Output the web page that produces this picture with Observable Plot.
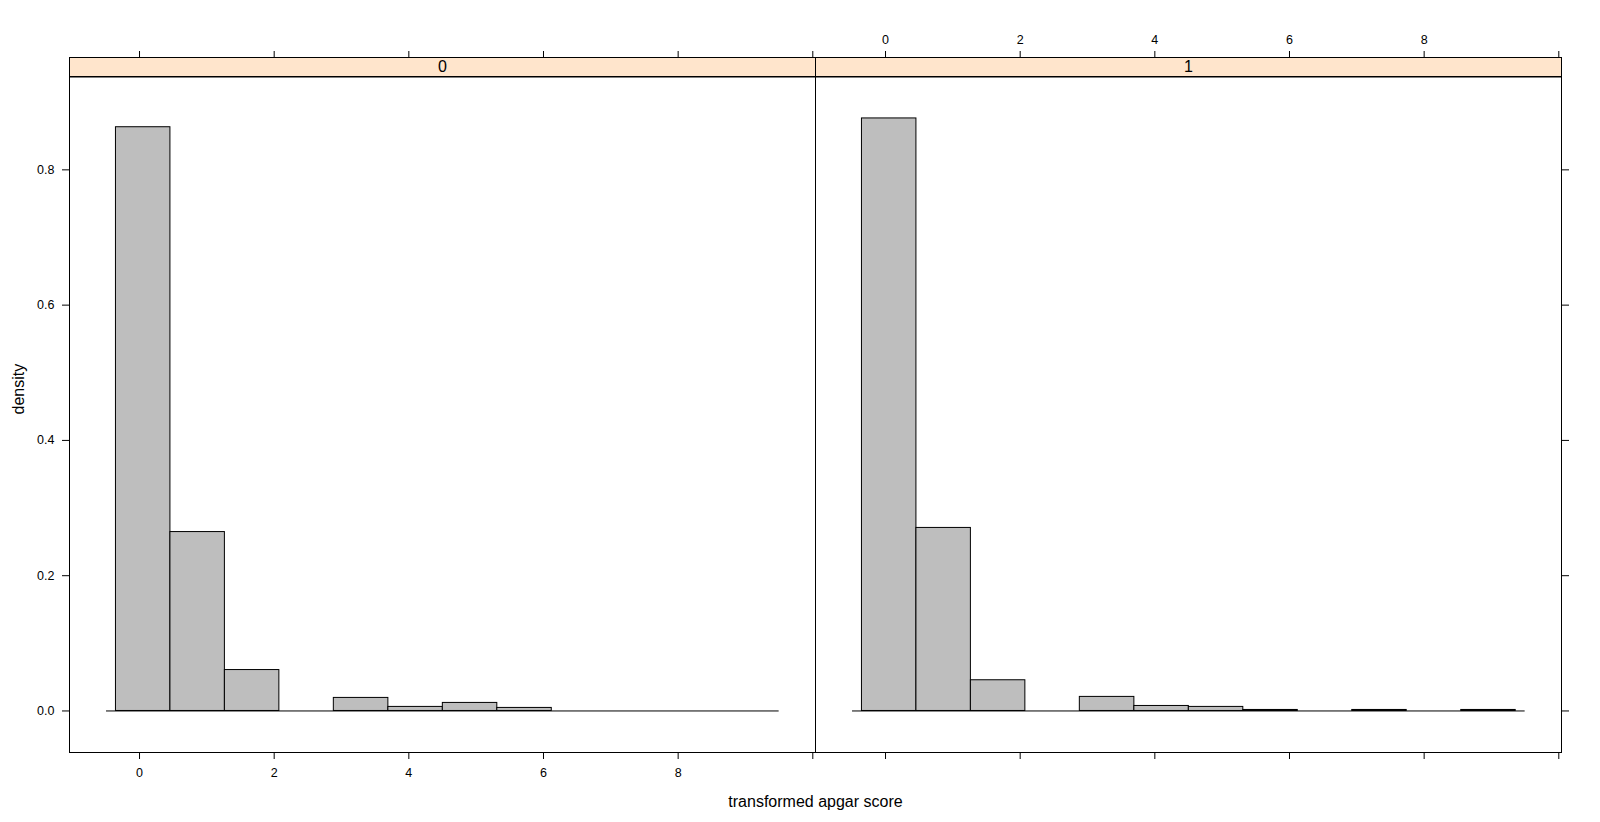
<!DOCTYPE html>
<html>
<head>
<meta charset="utf-8">
<script src="https://cdn.jsdelivr.net/npm/d3@7"></script>
<script src="https://cdn.jsdelivr.net/npm/@observablehq/plot@0.6"></script>
<style>
  html, body { margin: 0; padding: 0; background: #ffffff; }
  #chart svg { display: block; }
</style>
</head>
<body>
<div id="chart"></div>
<script>
// ---- data ----
const panels = ["0", "1"];
const breaks = [-0.35, 0.459, 1.268, 2.077, 2.886, 3.696, 4.505, 5.314, 6.123, 6.932, 7.741, 8.551, 9.36];
const density0 = [0.863, 0.2645, 0.0605, 0, 0.0193, 0.006, 0.0119, 0.0045, 0, 0, 0, 0];
const density1 = [0.876, 0.2706, 0.0454, 0, 0.0208, 0.0074, 0.006, 0.0015, 0, 0.0015, 0, 0.0015];
const xTicks = [0, 2, 4, 6, 8, 10];
const xTickLabels = ["0", "2", "4", "6", "8", ""];
const yTicks = [0, 0.2, 0.4, 0.6, 0.8];
const xDomain = [-1.04, 10.04];
const yDomain = [-0.0614, 0.938];
const baselineRange = [-0.49, 9.5];
const xLabel = "transformed apgar score";
const yLabel = "density";

// ---- table for the marks ----
const densities = {"0": density0, "1": density1};
const bins = [];
for (const p of panels) {
  densities[p].forEach((d, i) => {
    if (d > 0) bins.push({panel: p, x1: breaks[i], x2: breaks[i + 1], density: d});
  });
}
const xFmt = d => xTickLabels[xTicks.indexOf(d)];
const yFmt = d3.format(".1f");

const chart = Plot.plot({
  width: 1600,
  height: 822,
  marginLeft: 69,
  marginRight: 39,
  marginTop: 76,
  marginBottom: 70,
  style: {fontFamily: "'Liberation Sans', Arial, sans-serif", fontSize: "12.5px", background: "#ffffff", color: "#000000"},
  fx: {domain: panels, padding: 0, axis: null, label: null},
  x: {domain: xDomain, axis: null},
  y: {domain: yDomain, axis: null},
  marks: [
    // strip
    Plot.frame({insetTop: -19, insetBottom: 675.5, fill: "#FFE5CC", stroke: "#000000"}),
    Plot.text(panels, {fx: d => d, text: d => d, frameAnchor: "top", lineAnchor: "middle", dy: -9.5, fontSize: 16}),
    // panel border
    Plot.frame({stroke: "#000000"}),
    // histogram bars
    Plot.rectY(bins, {fx: "panel", x1: "x1", x2: "x2", y: "density", fill: "#BEBEBE", stroke: "#000000", strokeWidth: 1}),
    Plot.ruleY([0], {x1: baselineRange[0], x2: baselineRange[1], stroke: "#000000"}),
    // x axes (alternating like lattice)
    Plot.axisX({anchor: "bottom", facetAnchor: "left", ticks: xTicks, tickFormat: xFmt, tickSize: 7, tickPadding: 9, label: null}),
    Plot.axisX({anchor: "top", facetAnchor: "left", ticks: xTicks, tickFormat: () => "", tickSize: 7, dy: -19, label: null}),
    Plot.axisX({anchor: "top", facetAnchor: "right", ticks: xTicks, tickFormat: xFmt, tickSize: 7, tickPadding: 7, dy: -19, label: null}),
    Plot.axisX({anchor: "bottom", facetAnchor: "right", ticks: xTicks, tickFormat: () => "", tickSize: 7, label: null}),
    // y axes
    Plot.axisY({anchor: "left", facetAnchor: "left", ticks: yTicks, tickFormat: yFmt, tickSize: 7, tickPadding: 8, label: null}),
    Plot.axisY({anchor: "right", facetAnchor: "right", ticks: yTicks, tickFormat: () => "", tickSize: 7, label: null}),
    // axis titles
    Plot.text([yLabel], {text: d => d, frameAnchor: "left", lineAnchor: "middle", rotate: -90, dx: -51, fontSize: 16, facetAnchor: "left"}),
    Plot.text([xLabel], {text: d => d, frameAnchor: "bottom-right", textAnchor: "middle", lineAnchor: "middle", dy: 49.5, fontSize: 16, facetAnchor: "left"})
  ]
});
document.getElementById("chart").appendChild(chart);
</script>
</body>
</html>
